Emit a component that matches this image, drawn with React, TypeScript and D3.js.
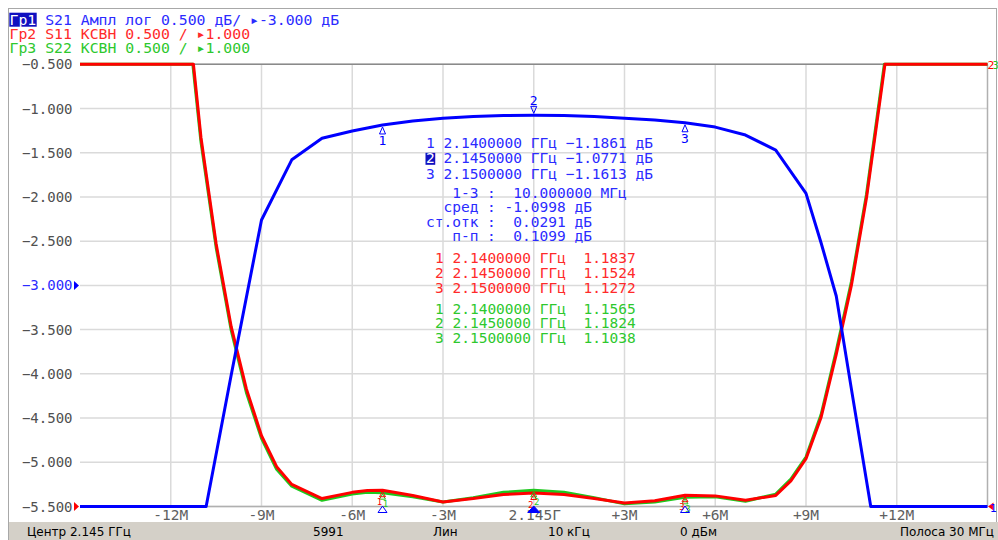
import React from "react";
import * as d3 from "d3";

// S21, dB (trace 1)
const s21Freq = [-15, -10.83, -10, -9, -8, -7, -6, -5, -4, -3, -2, -1, 0, 1, 2, 3, 4, 5, 6, 7, 8, 9, 9.5, 10, 10.5, 11.14, 15];
const s21Db = [-5.5, -5.5, -4.01, -2.26, -1.58, -1.337, -1.255, -1.186, -1.14, -1.11, -1.09, -1.08, -1.077, -1.08, -1.09, -1.11, -1.13, -1.161, -1.21, -1.3, -1.47, -1.96, -2.52, -3.12, -4.17, -5.5, -5.5];

// S11, VSWR (trace 2)
const s11Freq = [-15, -11.25, -11, -10.5, -10, -9.5, -9, -8.5, -8, -7, -6, -5.5, -5, -4, -3, -2, -1, 0, 1, 2, 3, 4, 5, 6, 7, 8, 8.5, 9, 9.5, 10, 10.5, 11, 11.61, 15];
const s11Vswr = [6, 6, 5.17, 3.97, 3.03, 2.33, 1.8, 1.45, 1.25, 1.09, 1.16, 1.18, 1.1837, 1.125, 1.05, 1.09, 1.135, 1.1524, 1.135, 1.09, 1.04, 1.065, 1.1272, 1.12, 1.07, 1.125, 1.29, 1.54, 2.01, 2.72, 3.5, 4.49, 6, 6];

// S22, VSWR (trace 3)
const s22Freq = [-15, -11.27, -11, -10.5, -10, -9.5, -9, -8.5, -8, -7, -6, -5.5, -5, -4, -3, -2, -1, 0, 1, 2, 3, 4, 5, 6, 7, 8, 8.5, 9, 9.5, 10, 10.5, 11, 11.59, 15];
const s22Vswr = [6, 6, 5.12, 3.93, 2.99, 2.29, 1.77, 1.42, 1.23, 1.07, 1.14, 1.16, 1.1565, 1.11, 1.05, 1.1, 1.16, 1.1824, 1.16, 1.1, 1.03, 1.05, 1.1038, 1.11, 1.06, 1.14, 1.31, 1.56, 2.04, 2.76, 3.54, 4.53, 6, 6];

const markerNums = ["1", "2", "3"];
const markerFreqs = [-5, 0, 5];
const markerFreqLabels = ["2.1400000", "2.1450000", "2.1500000"];
const s21Markers = [-1.1861, -1.0771, -1.1613];
const s11Markers = [1.1837, 1.1524, 1.1272];
const s22Markers = [1.1565, 1.1824, 1.1038];

const statsLines = ["   1-3 :  10.000000 МГц", "  сред : -1.0998 дБ", "ст.отк :  0.0291 дБ", "   п-п :  0.1099 дБ"];

const xTicks = [-12, -9, -6, -3, 0, 3, 6, 9, 12];
const xTickLabels = ["-12М", "-9М", "-6М", "-3М", "2.145Г", "+3М", "+6М", "+9М", "+12М"];
const yTicks = [-0.5, -1, -1.5, -2, -2.5, -3, -3.5, -4, -4.5, -5, -5.5];

const legendTags = ["Гр1", "Гр2", "Гр3"];
const legendTexts = [" S21 Ампл лог 0.500 дБ/ ▸-3.000 дБ", " S11 КСВН 0.500 / ▸1.000", " S22 КСВН 0.500 / ▸1.000"];

const statusItems = ["Центр 2.145 ГГц", "5991", "Лин", "10 кГц", "0 дБм", "Полоса 30 МГц"];

const BLUE = "#0000ff";
const RED = "#ff0000";
const GREEN = "#1ec81e";
const BLUE_T = "#2b2bff";
const RED_T = "#ff2a2a";
const GREEN_T = "#2ec82e";
const MONO = '"DejaVu Sans Mono", monospace';
const SANS = '"DejaVu Sans", sans-serif';

// keep runs of spaces in svg text
const pre = (s: string) => s.replace(/ /g, "\u00a0");

export default function App() {
  const left = 80, right = 987.5, top = 64.3, bottom = 506.5;

  const x = d3.scaleLinear().domain([-15, 15]).range([left, right]);
  const yDb = d3.scaleLinear().domain([-5.5, -0.5]).range([bottom, top]).clamp(true);
  const yVswr = d3.scaleLinear().domain([1, 6]).range([bottom, top]).clamp(true);

  const s21Path = d3.line<number>().x((_, i) => x(s21Freq[i])).y((d) => yDb(d))(s21Db) || "";
  const s11Path = d3.line<number>().x((_, i) => x(s11Freq[i])).y((d) => yVswr(d))(s11Vswr) || "";
  const s22Path = d3.line<number>().x((_, i) => x(s22Freq[i])).y((d) => yVswr(d))(s22Vswr) || "";

  const fmt = d3.format(".3f");
  const fmt4 = d3.format(".4f");
  const adv = 8.73;

  const triUp = (cx: number, cy: number, w: number, h: number) =>
    `M${cx},${cy} L${cx - w / 2},${cy + h} L${cx + w / 2},${cy + h} Z`;
  const triDown = (cx: number, cy: number, w: number, h: number) =>
    `M${cx},${cy} L${cx - w / 2},${cy - h} L${cx + w / 2},${cy - h} Z`;

  const statusX = [27, 313, 433, 548, 680, 994];

  return (
    <svg width={998} height={540} style={{ position: "absolute", left: 0, top: 0, background: "#fff" }}>
      {/* frame */}
      <rect x={8.5} y={8.5} width={988} height={540} fill="#fff" stroke="#a8a8a8" />

      {/* grid */}
      {yTicks.map((t) => (
        <line key={"h" + t} x1={left} x2={right} y1={yDb(t)} y2={yDb(t)} stroke="#dadada" strokeWidth={1.5} />
      ))}
      {xTicks.map((t) => (
        <line key={"v" + t} x1={x(t)} x2={x(t)} y1={top} y2={bottom} stroke="#dadada" strokeWidth={1.5} />
      ))}
      <line x1={left} x2={right} y1={top} y2={top} stroke="#8a8a8a" strokeWidth={1.5} />
      <line x1={left} x2={right} y1={bottom} y2={bottom} stroke="#b0b0b0" strokeWidth={1.5} />
      <line x1={right} x2={right} y1={top} y2={bottom} stroke="#b0b0b0" strokeWidth={1.5} />

      {/* y tick labels */}
      {yTicks.map((t) => (
        <text key={"yl" + t} x={72.5} y={yDb(t) + 5} textAnchor="end" fontFamily={MONO} fontSize={14}
          fill={t === -3 ? BLUE_T : "#505050"}>{fmt(t)}</text>
      ))}

      {/* x tick labels */}
      {xTicks.map((t, i) => (
        <text key={"xl" + t} x={x(t) + (t === 0 ? 1 : 0)} y={520} textAnchor="middle" fontFamily={MONO} fontSize={14.5}
          fill="#606060">{xTickLabels[i]}</text>
      ))}

      {/* traces */}
      <path d={s22Path} fill="none" stroke={GREEN} strokeWidth={3} strokeLinejoin="round" />
      <path d={s11Path} fill="none" stroke={RED} strokeWidth={3} strokeLinejoin="round" />
      <path d={s21Path} fill="none" stroke={BLUE} strokeWidth={3} strokeLinejoin="round" />

      {/* reference level arrows */}
      <path d={`M${left - 6},${yVswr(1) - 4.5} L${left - 1},${yVswr(1)} L${left - 6},${yVswr(1) + 4.5} Z`} fill={RED} />
      <path d={`M${left - 6},${yDb(-3) - 4.5} L${left - 1},${yDb(-3)} L${left - 6},${yDb(-3) + 4.5} Z`} fill={BLUE} />

      {/* trace end labels */}
      <text x={987.5} y={yVswr(6) + 5} fontFamily={SANS} fontSize={11} fill={RED}>2</text>
      <text x={992.5} y={yVswr(6) + 5} fontFamily={SANS} fontSize={10} fill={GREEN}>3</text>
      <path d={`M${right + 0.5},${yDb(-5.5)} L${right + 6},${yDb(-5.5) - 4} L${right + 6},${yDb(-5.5) + 4} Z`} fill={RED} />
      <text x={990} y={yDb(-5.5) + 5} fontFamily={SANS} fontSize={11} fill={BLUE}>1</text>

      {/* S11 / S22 markers */}
      {markerFreqs.map((f, i) => (
        <g key={"g" + i}>
          <path d={triUp(x(f), yVswr(s22Markers[i]) + 1.5, 6, 5)} fill="none" stroke={GREEN} strokeWidth={1} />
          <path d={triUp(x(f), yVswr(s11Markers[i]) + 1.5, 6, 5)} fill="none" stroke={RED} strokeWidth={1} />
          <text x={x(f) - 3} y={yVswr(s11Markers[i]) + 14.5} textAnchor="middle" fontFamily={MONO} fontSize={9} fill={RED}>{markerNums[i]}</text>
          <text x={x(f) + 3} y={yVswr(s22Markers[i]) + 14.5} textAnchor="middle" fontFamily={MONO} fontSize={9} fill={GREEN}>{markerNums[i]}</text>
        </g>
      ))}

      {/* S21 markers on the axis */}
      {markerFreqs.map((f, i) => (
        <path key={"ax" + i} d={triUp(x(f), bottom - 0.5, i === 1 ? 12 : 9, 6.5)}
          fill={i === 1 ? BLUE : "none"} stroke={BLUE} strokeWidth={1} />
      ))}

      {/* S21 markers on trace */}
      {markerFreqs.map((f, i) =>
        i === 1 ? (
          <g key={"m" + i}>
            <path d={triDown(x(f), yDb(s21Markers[i]) - 2, 6, 7)} fill="none" stroke={BLUE} strokeWidth={1} />
            <text x={x(f)} y={yDb(s21Markers[i]) - 10.5} textAnchor="middle" fontFamily={MONO} fontSize={13} fill={BLUE}>{markerNums[i]}</text>
          </g>
        ) : (
          <g key={"m" + i}>
            <path d={triUp(x(f), yDb(s21Markers[i]) + 2, 6, 7)} fill="none" stroke={BLUE} strokeWidth={1} />
            <text x={x(f)} y={yDb(s21Markers[i]) + 20} textAnchor="middle" fontFamily={MONO} fontSize={13} fill={BLUE}>{markerNums[i]}</text>
          </g>
        )
      )}

      {/* marker table */}
      <g fontFamily={MONO} fontSize={14.5}>
        {markerFreqLabels.map((lab, i) => (
          <g key={"bt" + i}>
            {i === 1 && <rect x={425.5} y={148 + i * 15.3 - 10.5} width={adv + 1} height={12} fill="#1010c0" />}
            <text x={426} y={148 + i * 15.3} fill={i === 1 ? "#fff" : BLUE_T}>{markerNums[i]}</text>
            <text x={426 + 2 * adv} y={148 + i * 15.3} fill={BLUE_T}>{pre(`${lab} ГГц ${fmt4(s21Markers[i])} дБ`)}</text>
          </g>
        ))}
        {statsLines.map((s, i) => (
          <text key={"st" + i} x={426} y={197.5 + i * 14.6} fill={BLUE_T}>{pre(s)}</text>
        ))}
        {markerFreqLabels.map((lab, i) => (
          <text key={"rt" + i} x={435} y={263 + i * 14.8} fill={RED_T}>{pre(`${markerNums[i]} ${lab} ГГц  ${fmt4(s11Markers[i])}`)}</text>
        ))}
        {markerFreqLabels.map((lab, i) => (
          <text key={"gt" + i} x={435} y={313.5 + i * 14.8} fill={GREEN_T}>{pre(`${markerNums[i]} ${lab} ГГц  ${fmt4(s22Markers[i])}`)}</text>
        ))}
      </g>

      {/* legend */}
      <g fontFamily={MONO} fontSize={14.8}>
        <rect x={9.3} y={12.7} width={27.4} height={14} fill="#1010c0" />
        {legendTags.map((tag, i) => {
          const col = [BLUE_T, RED_T, GREEN_T][i];
          return (
            <text key={"lg" + i} x={9.5} y={24.8 + i * 14}>
              <tspan fill={i === 0 ? "#fff" : col}>{tag}</tspan>
              <tspan fill={col}>{pre(legendTexts[i])}</tspan>
            </text>
          );
        })}
      </g>

      {/* status bar */}
      <rect x={9} y={522} width={989} height={18} fill="#d4d0c8" />
      {statusItems.map((s, i) => (
        <text key={"sb" + i} x={statusX[i]} y={536} textAnchor={i === statusItems.length - 1 ? "end" : "start"}
          fontFamily={SANS} fontSize={12} fill="#000">{s}</text>
      ))}
    </svg>
  );
}
